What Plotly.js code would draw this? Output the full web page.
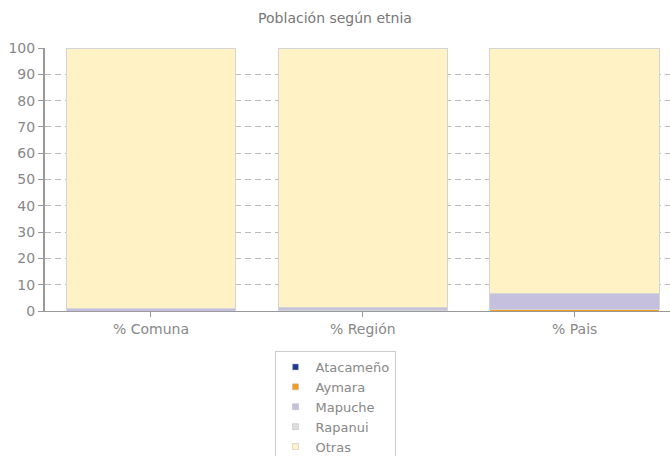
<!DOCTYPE html>
<html>
<head>
<meta charset="utf-8">
<script src="https://cdn.plot.ly/plotly-3.0.1.min.js"></script>
<style>html,body{margin:0;padding:0;overflow:hidden;background:#fff;}</style>
</head>
<body>
<div id="chart" style="width:670px;height:470px;"></div>
<script>
const categories = ["% Comuna", "% Región", "% Pais"];
const seriesNames = ["Atacameño", "Aymara", "Mapuche", "Rapanui", "Otras"];
const atacameno = [0.0, 0.0, 0.1];
const aymara = [0.0, 0.05, 0.6];
const mapuche = [0.9, 1.35, 5.8];
const rapanui = [0.0, 0.0, 0.05];
const otras = [99.1, 98.6, 93.45];
const yTicks = [0, 10, 20, 30, 40, 50, 60, 70, 80, 90, 100];

const colors = ["#1F3A93", "#F39C1F", "#C4C0DE", "#DDDDDD", "#FFF2C4"];
const outlineWidths = [0, 0, 1, 0, 1];
const values = [atacameno, aymara, mapuche, rapanui, otras];

const traces = [];
values.forEach((v, i) => {
  traces.push({
    type: "bar", x: categories, y: v, name: seriesNames[i],
    marker: {color: colors[i], line: {color: "#d4d4d4", width: outlineWidths[i]}},
    width: 0.8, showlegend: false, hoverinfo: "none"
  });
});
values.forEach((v, i) => {
  traces.push({
    type: "scatter", mode: "markers", x: [null], y: [null], name: seriesNames[i],
    marker: {symbol: "square", size: 6, color: colors[i], line: {color: "#bbb", width: 0.5}},
    showlegend: true
  });
});

const layout = {
  width: 670, height: 470,
  margin: {l: 45, r: 0, t: 48, b: 159, autoexpand: false},
  paper_bgcolor: "#fff", plot_bgcolor: "#fff",
  font: {family: "DejaVu Sans, Verdana, sans-serif", size: 14, color: "#888"},
  title: {text: "Población según etnia", x: 0.5, xref: "container", xanchor: "center", y: 1 - 18/470, yanchor: "middle",
          font: {size: 14, color: "#777"}},
  barmode: "stack", bargap: 0.2,
  xaxis: {
    type: "category", range: [-0.5, 2.45], showline: true, linecolor: "#999", linewidth: 1,
    ticks: "outside", ticklen: 5, tickcolor: "#999", showgrid: false, zeroline: false,
    tickfont: {size: 14, color: "#888"}, fixedrange: true
  },
  yaxis: {
    range: [0, 100], tickvals: yTicks, ticktext: yTicks.map(String),
    showline: true, linecolor: "#999", linewidth: 2, ticks: "outside", ticklen: 5, tickcolor: "#999",
    showgrid: true, gridcolor: "#bbb", griddash: "6px,4px", gridwidth: 1, zeroline: false,
    tickfont: {size: 14, color: "#888"}, fixedrange: true
  },
  showlegend: true,
  legend: {
    orientation: "v", traceorder: "normal", x: 0.5, xref: "container", xanchor: "center",
    y: (470 - 351) / 470, yref: "container", yanchor: "top",
    bordercolor: "#ccc", borderwidth: 1, bgcolor: "#fff",
    font: {size: 13, color: "#888"}, itemwidth: 30, tracegroupgap: 0
  }
};

Plotly.newPlot("chart", traces, layout, {displayModeBar: false, staticPlot: true});
</script>
</body>
</html>
